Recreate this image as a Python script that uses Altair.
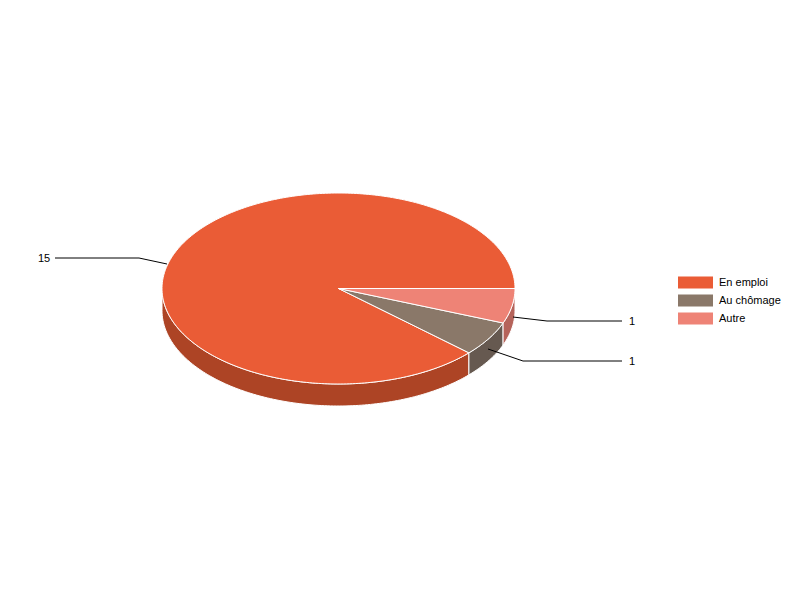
import math
import altair as alt
import pandas as pd

categories = ["En emploi", "Au chômage", "Autre"]
values = [15, 1, 1]
top_colors = ["#EA5C36", "#8A7869", "#EE8376"]
side_colors = ["#AD4425", "#665950", "#B5635A"]
label_text = ["15", "1", "1"]
label_x = [38, 629, 629]
label_y = [259, 362, 322]
leader_x = [[55, 139, 167], [622, 523, 488], [622, 547, 513]]
leader_y = [[258, 258, 264], [361, 361, 349], [321, 321, 317]]

CX, CY, RX, RY, DEPTH = 338.5, 288.5, 176.5, 95.5, 22
STEP = 1.0


def ell(a, dy=0.0):
    r = math.radians(a)
    return CX + RX * math.cos(r), CY + RY * math.sin(r) + dy


def sweep(a0, a1, dy=0.0):
    n = max(2, int(abs(a1 - a0) / STEP) + 1)
    return [ell(a0 + (a1 - a0) * k / (n - 1), dy) for k in range(n)]


# slices run clockwise from 3 o'clock, last category first
total = sum(values)
angles = {}
acc = 0.0
for name, v in zip(reversed(categories), reversed(values)):
    angles[name] = (acc, acc + v / total * 360)
    acc += v / total * 360

top_rows, side_rows = [], []
for name in categories:
    a0, a1 = angles[name]
    pts = [(CX, CY)] + sweep(a0, a1) + [(CX, CY)]
    top_rows += [{"cat": name, "i": i, "x": p[0], "y": p[1]} for i, p in enumerate(pts)]
    s0, s1 = max(a0, 0), min(a1, 180)
    if s1 > s0:
        pts = sweep(s0, s1) + sweep(s1, s0, DEPTH)
        pts.append(pts[0])
        side_rows += [{"cat": name, "i": i, "x": p[0], "y": p[1]} for i, p in enumerate(pts)]

x_scale = alt.Scale(domain=[8, 792], nice=False, zero=False)
y_scale = alt.Scale(domain=[592, 8], nice=False, zero=False)
X = alt.X("x:Q", scale=x_scale, axis=None)
Y = alt.Y("y:Q", scale=y_scale, axis=None)

side = alt.Chart(pd.DataFrame(side_rows)).mark_line(stroke="white", strokeWidth=1, strokeJoin="round").encode(
    x=X, y=Y, order="i:Q", detail="cat:N",
    fill=alt.Fill("cat:N", scale=alt.Scale(domain=categories, range=side_colors), legend=None),
)

top = alt.Chart(pd.DataFrame(top_rows)).mark_line(stroke="white", strokeWidth=1, strokeJoin="round").encode(
    x=X, y=Y, order="i:Q", detail="cat:N",
    fill=alt.Fill(
        "cat:N",
        sort=categories,
        scale=alt.Scale(domain=categories, range=top_colors),
        legend=alt.Legend(
            title=None, orient="none", legendX=680.5, legendY=267.5, padding=0,
            symbolType="M-2.5,-0.857H2.5V0.857H-2.5Z", symbolSize=196, symbolStrokeWidth=0,
            symbolOpacity=1, labelFont="Liberation Sans", labelFontSize=11,
            labelColor="#000000", labelOffset=16.5, rowPadding=5,
        ),
    ),
)

leader_rows = []
for k, (xs, ys) in enumerate(zip(leader_x, leader_y)):
    leader_rows += [{"k": k, "i": i, "x": a, "y": b} for i, (a, b) in enumerate(zip(xs, ys))]
leaders = alt.Chart(pd.DataFrame(leader_rows)).mark_line(color="#000000", strokeWidth=1).encode(
    x=X, y=Y, order="i:Q", detail="k:N"
)

labels = alt.Chart(pd.DataFrame({"x": label_x, "y": label_y, "t": label_text})).mark_text(
    font="Liberation Sans", fontSize=11, fill="#000000", align="left", baseline="middle"
).encode(x=X, y=Y, text="t:N")

chart = (
    alt.layer(side, top, leaders, labels)
    .resolve_scale(fill="independent")
    .properties(width=784, height=584, padding=0, autosize=alt.AutoSizeParams(type="none"))
    .configure_view(stroke=None)
)

chart.save("out.html", embed_options={"renderer": "svg", "actions": False})
